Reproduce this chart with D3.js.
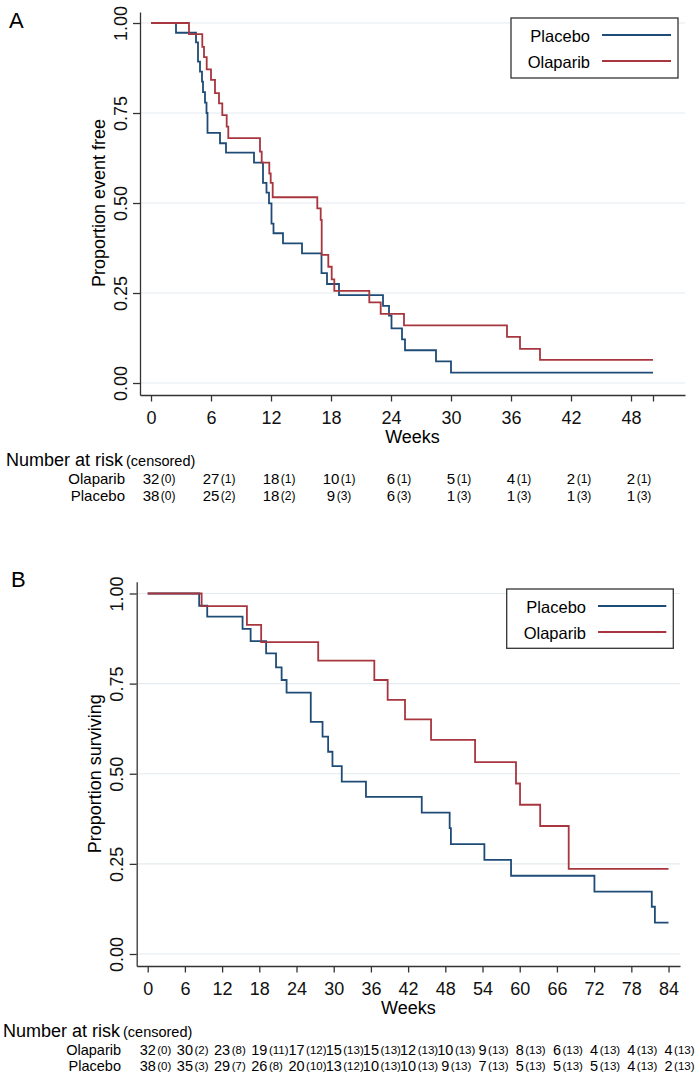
<!DOCTYPE html>
<html>
<head>
<meta charset="utf-8">
<style>
  body { margin: 0; background: #fff; }
  svg { display: block; font-family: "Liberation Sans", Arial, Helvetica, sans-serif; }
  .grid line { stroke: #e4ecef; stroke-width: 1.2; }
  .axis path, .axis line { stroke: #333; stroke-width: 1.3; }
  .axis text { font-size: 18px; fill: #111; }
  .km { fill: none; stroke-width: 1.8; }
</style>
</head>
<body>
<svg width="700" height="1076"></svg>
<script src="https://cdn.jsdelivr.net/npm/d3@7/dist/d3.min.js"></script>
<script>

var BLUE = "#1f4c77", RED = "#a8363f";

// ---- Panel A : proportion event free (weeks, value after each step) ----
var placeboA_t = [0, 2.5, 4.5, 4.7, 4.9, 5.1, 5.2, 5.4, 5.55, 5.65, 6.9, 7.5, 10.3, 11.2, 11.55, 11.8, 12.05, 12.25, 13.2, 15.1, 17.05, 17.6, 18.8, 23.2, 23.8, 24.05, 25.1, 25.4, 28.5, 30.0, 50.2];
var placeboA_s = [1, 0.973, 0.946, 0.893, 0.865, 0.837, 0.808, 0.779, 0.750, 0.695, 0.666, 0.640, 0.612, 0.556, 0.529, 0.499, 0.443, 0.416, 0.388, 0.360, 0.305, 0.275, 0.244, 0.214, 0.187, 0.152, 0.121, 0.091, 0.060, 0.029, 0.029];
var olaparibA_t = [0, 3.8, 5.13, 5.3, 5.57, 6.0, 6.4, 6.8, 7.13, 7.57, 7.73, 10.9, 11.07, 11.83, 11.97, 12.17, 16.63, 16.97, 17.07, 17.73, 18.07, 18.33, 21.83, 22.97, 25.3, 35.6, 36.9, 38.9, 50.2];
var olaparibA_s = [1, 0.969, 0.934, 0.905, 0.871, 0.842, 0.805, 0.777, 0.744, 0.712, 0.680, 0.643, 0.612, 0.582, 0.556, 0.516, 0.485, 0.453, 0.356, 0.323, 0.288, 0.256, 0.224, 0.192, 0.160, 0.128, 0.095, 0.064, 0.064];

var ticksA = [0, 6, 12, 18, 24, 30, 36, 42, 48];
var riskOlaA = [32, 27, 18, 10, 6, 5, 4, 2, 2];
var censOlaA = [0, 1, 1, 1, 1, 1, 1, 1, 1];
var riskPlaA = [38, 25, 18, 9, 6, 1, 1, 1, 1];
var censPlaA = [0, 2, 2, 3, 3, 3, 3, 3, 3];

// ---- Panel B : proportion surviving ----
var placeboB_t = [0, 8.3, 9.6, 15.3, 16.6, 19.1, 20.7, 21.6, 22.4, 26.3, 28.2, 29.1, 29.8, 31.3, 35.2, 44.2, 48.7, 48.9, 54.3, 58.6, 72.05, 81.3, 81.8, 84];
var placeboB_s = [1, 0.966, 0.936, 0.902, 0.868, 0.834, 0.795, 0.760, 0.725, 0.644, 0.603, 0.561, 0.521, 0.478, 0.436, 0.392, 0.349, 0.305, 0.261, 0.217, 0.173, 0.131, 0.087, 0.087];
var olaparibB_t = [0, 8.7, 16.0, 18.3, 27.5, 36.55, 38.7, 41.5, 45.7, 52.8, 59.4, 60.05, 63.3, 67.9, 84];
var olaparibB_s = [1, 0.965, 0.913, 0.865, 0.814, 0.760, 0.705, 0.651, 0.594, 0.532, 0.473, 0.414, 0.355, 0.236, 0.236];

var ticksB = [0, 6, 12, 18, 24, 30, 36, 42, 48, 54, 60, 66, 72, 78, 84];
var riskOlaB = [32, 30, 23, 19, 17, 15, 15, 12, 10, 9, 8, 6, 4, 4, 4];
var censOlaB = [0, 2, 8, 11, 12, 13, 13, 13, 13, 13, 13, 13, 13, 13, 13];
var riskPlaB = [38, 35, 29, 26, 20, 13, 10, 10, 9, 7, 5, 5, 5, 4, 2];
var censPlaB = [0, 3, 7, 8, 10, 12, 13, 13, 13, 13, 13, 13, 13, 13, 13];

var yTicks = [0, 0.25, 0.5, 0.75, 1];

var svg = d3.select("svg");

function zip(t, s) { return t.map(function(d, i) { return [d, s[i]]; }); }

function panel(p) {
  var g = svg.append("g");
  var x = p.x, y = p.y;
  var x0 = x.range()[0], x1 = x.range()[1];

  // panel letter
  g.append("text").attr("x", p.letterX).attr("y", p.letterY)
    .style("font-size", "22px").text(p.letter);

  // gridlines
  g.append("g").attr("class", "grid")
    .selectAll("line").data(yTicks).enter().append("line")
    .attr("x1", x0).attr("x2", x1)
    .attr("y1", function(d) { return y(d); }).attr("y2", function(d) { return y(d); });

  // y axis
  var ya = g.append("g").attr("class", "axis")
    .attr("transform", "translate(" + x0 + ",0)")
    .call(d3.axisLeft(y).tickValues(yTicks).tickSize(7).tickSizeOuter(0).tickFormat(d3.format(".2f")));
  ya.selectAll("text")
    .attr("transform", "rotate(-90)")
    .attr("x", 0).attr("y", -13.5).attr("dy", 0)
    .attr("text-anchor", "middle");

  // x axis
  var xa = g.append("g").attr("class", "axis")
    .attr("transform", "translate(0," + y.range()[0] + ")")
    .call(d3.axisBottom(x).tickValues(p.axisTicks).tickSize(6.5).tickSizeOuter(0)
      .tickFormat(function(d) { return p.ticks.indexOf(d) >= 0 ? d : ""; }));
  xa.selectAll("text").attr("y", 29).attr("dy", 0);

  // axis titles
  g.append("text")
    .attr("transform", "translate(" + p.yTitleX + "," + ((y(0) + y(1)) / 2) + ") rotate(-90)")
    .attr("text-anchor", "middle").style("font-size", "18px").text(p.yTitle);
  g.append("text")
    .attr("x", (x0 + x1) / 2).attr("y", y.range()[0] + 47.5)
    .attr("text-anchor", "middle").style("font-size", "18px").text("Weeks");

  // curves
  var line = d3.line().curve(d3.curveStepAfter)
    .x(function(d) { return x(d[0]); }).y(function(d) { return y(d[1]); });
  g.append("path").attr("class", "km").attr("stroke", BLUE).attr("d", line(p.placebo));
  g.append("path").attr("class", "km").attr("stroke", RED).attr("d", line(p.olaparib));

  // legend
  var L = p.legend;
  var lg = g.append("g");
  lg.append("rect").attr("x", L.x).attr("y", L.y).attr("width", L.w).attr("height", L.h)
    .attr("fill", "#fff").attr("stroke", "#333").attr("stroke-width", 1.3);
  [["Placebo", BLUE], ["Olaparib", RED]].forEach(function(e, i) {
    var ly = L.y + 17 + i * 26;
    lg.append("text").attr("x", L.textR).attr("y", ly + 6.5).attr("text-anchor", "end")
      .style("font-size", "16.5px").text(e[0]);
    lg.append("line").attr("x1", L.textR + 12).attr("x2", L.x + L.w - 7)
      .attr("y1", ly).attr("y2", ly).attr("stroke", e[1]).attr("stroke-width", 2);
  });

  // number at risk table
  var T = p.table;
  g.append("text").attr("x", T.x).attr("y", T.y).style("font-size", "18px").text("Number at risk");
  g.append("text").attr("x", T.cx).attr("y", T.y).style("font-size", "14.5px").text("(censored)");
  var rows = [["Olaparib", p.riskOla, p.censOla], ["Placebo", p.riskPla, p.censPla]];
  rows.forEach(function(r, j) {
    var by = T.y + T.dy1 + j * T.dy;
    g.append("text").attr("x", T.labelR).attr("y", by).attr("text-anchor", "end")
      .style("font-size", T.fs + "px").text(r[0]);
    p.ticks.forEach(function(t, i) {
      var n = g.append("text").attr("x", x(t)).attr("y", by).attr("text-anchor", "middle")
        .style("font-size", T.fs + "px").text(r[1][i]);
      var w = n.node().getComputedTextLength();
      g.append("text").attr("x", x(t) + w / 2 + 1.5).attr("y", by - 1)
        .style("font-size", T.cfs + "px").text("(" + r[2][i] + ")");
    });
  });
}

panel({
  letter: "A", letterX: 9, letterY: 28,
  x: d3.scaleLinear().domain([-1.1, 53.4]).range([140, 685]),
  y: d3.scaleLinear().domain([-0.0333, 1.0306]).range([395, 12]),
  ticks: ticksA, axisTicks: ticksA.concat([50.2]),
  yTitle: "Proportion event free", yTitleX: 105,
  placebo: zip(placeboA_t, placeboA_s), olaparib: zip(olaparibA_t, olaparibA_s),
  legend: { x: 511, y: 18, w: 167, h: 60, textR: 590 },
  table: { x: 6, cx: 126, y: 466, dy1: 17.5, dy: 17, labelR: 125, fs: 15, cfs: 12 },
  riskOla: riskOlaA, censOla: censOlaA, riskPla: riskPlaA, censPla: censPlaA
});

panel({
  letter: "B", letterX: 11, letterY: 587,
  x: d3.scaleLinear().domain([-1.774, 85.85]).range([136.7, 680]),
  y: d3.scaleLinear().domain([-0.0333, 1.0327]).range([966, 581.7]),
  ticks: ticksB, axisTicks: ticksB,
  yTitle: "Proportion surviving", yTitleX: 101,
  placebo: zip(placeboB_t, placeboB_s), olaparib: zip(olaparibB_t, olaparibB_s),
  legend: { x: 506.7, y: 589, w: 166.6, h: 59.3, textR: 586 },
  table: { x: 3, cx: 123, y: 1037, dy1: 18, dy: 16, labelR: 121, fs: 14.5, cfs: 11.5 },
  riskOla: riskOlaB, censOla: censOlaB, riskPla: riskPlaB, censPla: censPlaB
});

</script>
</body>
</html>
